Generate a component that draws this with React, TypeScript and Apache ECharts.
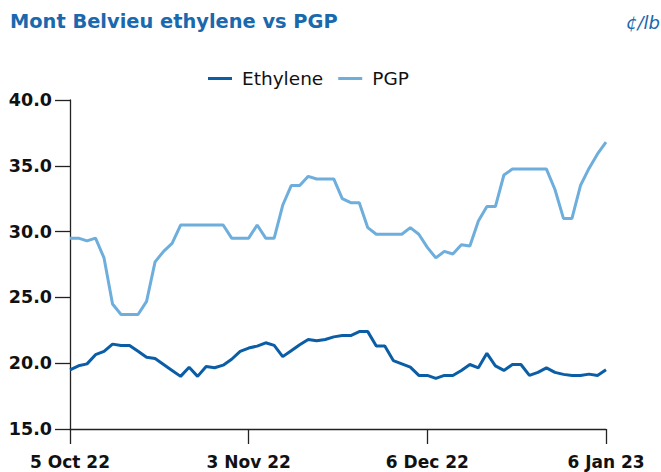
import React, { useEffect, useRef } from "react";
import * as echarts from "echarts";

const tickLabels = ["5 Oct 22", "3 Nov 22", "6 Dec 22", "6 Jan 23"];
const tickIndex = [0, 21, 42, 63];

const pgp = [
  29.5, 29.5, 29.3, 29.5, 28.0, 24.5, 23.7, 23.7, 23.7, 24.7,
  27.7, 28.5, 29.1, 30.5, 30.5, 30.5, 30.5, 30.5, 30.5, 29.5,
  29.5, 29.5, 30.5, 29.5, 29.5, 32.0, 33.5, 33.5, 34.2, 34.0,
  34.0, 34.0, 32.5, 32.2, 32.2, 30.3, 29.8, 29.8, 29.8, 29.8,
  30.3, 29.8, 28.8, 28.0, 28.5, 28.3, 29.0, 28.9, 30.8, 31.9,
  31.9, 34.3, 34.75, 34.75, 34.75, 34.75, 34.75, 33.2, 31.0, 31.0,
  33.5, 34.8, 35.9, 36.8,
];

const ethylene = [
  19.5, 19.8, 19.95, 20.65, 20.9, 21.45, 21.35, 21.35, 20.9, 20.45,
  20.35, 19.9, 19.45, 19.0, 19.7, 19.0, 19.75, 19.65, 19.85, 20.3,
  20.9, 21.15, 21.3, 21.55, 21.35, 20.5, 20.95, 21.4, 21.8, 21.7,
  21.8, 22.0, 22.1, 22.1, 22.4, 22.4, 21.3, 21.3, 20.2, 19.95,
  19.7, 19.07, 19.07, 18.85, 19.07, 19.07, 19.45, 19.9, 19.65, 20.75,
  19.8, 19.45, 19.9, 19.9, 19.07, 19.3, 19.65, 19.3, 19.15, 19.07,
  19.07, 19.17, 19.07, 19.5,
];

const categories = ethylene.map((_, i) => {
  const k = tickIndex.indexOf(i);
  return k >= 0 ? tickLabels[k] : "d" + i;
});

const FONT = "DejaVu Sans";

export default function App() {
  const ref = useRef<HTMLDivElement>(null);
  useEffect(() => {
    if (!ref.current) return;
    const chart = echarts.init(ref.current, undefined, { renderer: "svg" });
    const showTick = (i: number) => tickIndex.indexOf(i) >= 0;
    chart.setOption({
      animation: false,
      title: [
        {
          text: "Mont Belvieu ethylene vs PGP",
          left: 10,
          top: 12,
          padding: 0,
          textStyle: { fontFamily: FONT, fontWeight: "bold", fontSize: 19.4, color: "#1a68ad" },
        },
        {
          text: "¢/lb",
          right: 1,
          top: 13,
          padding: 0,
          textStyle: { fontFamily: FONT, fontStyle: "italic", fontWeight: "normal", fontSize: 18, color: "#1a68ad" },
        },
      ],
      legend: {
        top: 64,
        left: 203,
        icon: "rect",
        itemWidth: 24,
        itemHeight: 3,
        itemGap: 15,
        textStyle: { fontFamily: FONT, fontSize: 18.5, color: "#111", padding: [0, 0, 0, 5] },
        data: ["Ethylene", "PGP"],
      },
      grid: { left: 70, right: 55, top: 100, bottom: 43, containLabel: false },
      xAxis: {
        type: "category",
        data: categories,
        boundaryGap: false,
        axisLine: { lineStyle: { color: "#222", width: 1.3 } },
        axisTick: { show: true, length: 15, interval: showTick, lineStyle: { color: "#222", width: 1.3 } },
        axisLabel: {
          interval: showTick,
          fontFamily: FONT,
          fontWeight: "bold",
          fontSize: 17,
          color: "#111",
          margin: 24,
        },
        splitLine: { show: false },
      },
      yAxis: {
        type: "value",
        min: 15,
        max: 40,
        interval: 5,
        axisLine: { show: true, lineStyle: { color: "#222", width: 1.3 } },
        axisTick: { show: true, length: 15, lineStyle: { color: "#222", width: 1.3 } },
        axisLabel: {
          fontFamily: FONT,
          fontWeight: "bold",
          fontSize: 17.5,
          color: "#111",
          margin: 18,
          formatter: (v: number) => v.toFixed(1),
        },
        splitLine: { show: false },
      },
      series: [
        {
          name: "Ethylene",
          type: "line",
          data: ethylene,
          symbol: "none",
          lineStyle: { color: "#0b5ea6", width: 3 },
          itemStyle: { color: "#0b5ea6" },
        },
        {
          name: "PGP",
          type: "line",
          data: pgp,
          symbol: "none",
          lineStyle: { color: "#6eaedd", width: 3 },
          itemStyle: { color: "#6eaedd" },
        },
      ],
    });
    return () => chart.dispose();
  }, []);
  return (
    <div
      ref={ref}
      style={{ position: "absolute", left: 0, top: 0, width: 661, height: 472 }}
    />
  );
}
